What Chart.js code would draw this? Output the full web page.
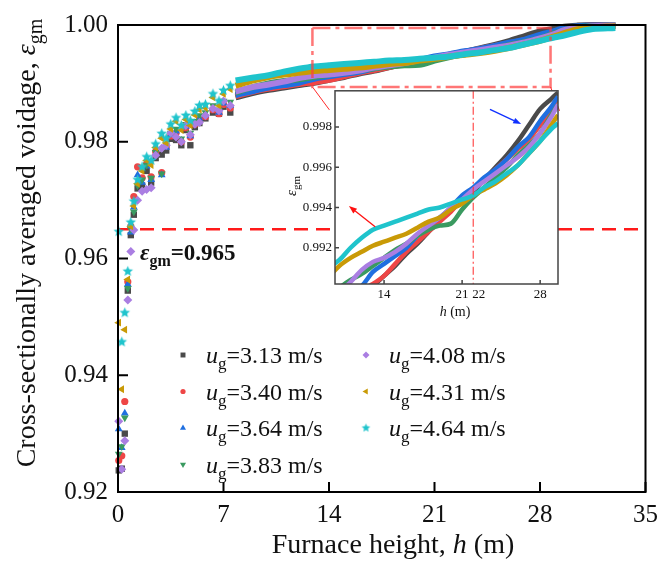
<!DOCTYPE html>
<html>
<head>
<meta charset="utf-8">
<script src="https://cdn.jsdelivr.net/npm/chart.js@4/dist/chart.umd.min.js"></script>
<style>
  html, body { margin: 0; padding: 0; background: #fff; }
  #wrap { position: relative; width: 666px; height: 573px; }
  #main { position: absolute; left: 0; top: 0; }
  #inset { position: absolute; left: 260px; top: 80px; }
</style>
</head>
<body>
<div id="wrap">
  <canvas id="main" width="666" height="573"></canvas>
  <canvas id="inset" width="310" height="250"></canvas>
</div>
<script>
// superficial gas velocities (m/s)
const speeds = ['3.13', '3.40', '3.64', '3.83', '4.08', '4.31', '4.64'];
const colors = ['#4a4a4a', '#ee4646', '#1f6fe0', '#3a9a60', '#aa7ee2', '#c99a06', '#1fc4cc'];

// lower furnace: individual measurement points
const earlyH = [0.05, 0.25, 0.45, 0.65, 0.85, 1.05, 1.3, 1.6, 1.9, 2.2, 2.5, 2.9, 3.2, 3.5, 3.85, 4.2, 4.5, 4.8, 5.1, 5.4, 5.8, 6.3, 6.7, 7.0, 7.45];
const early313 = [0.9237, 0.9240, 0.9300, 0.9545, 0.9640, 0.9675, 0.9720, 0.9725, 0.9750, 0.9730, 0.9772, 0.9778, 0.9785, 0.9805, 0.9803, 0.9794, 0.9820, 0.9794, 0.9825, 0.9832, 0.9840, 0.9850, 0.9848, 0.9860, 0.9850];
const early340 = [0.9254, 0.9262, 0.9355, 0.9560, 0.9655, 0.9706, 0.9757, 0.9738, 0.9762, 0.9740, 0.9783, 0.9747, 0.9792, 0.9810, 0.9815, 0.9800, 0.9824, 0.9808, 0.9830, 0.9838, 0.9843, 0.9855, 0.9848, 0.9864, 0.9858];
const early364 = [0.9308, 0.9276, 0.9335, 0.9556, 0.9645, 0.9688, 0.9743, 0.9730, 0.9758, 0.9735, 0.9780, 0.9743, 0.9790, 0.9812, 0.9818, 0.9802, 0.9826, 0.9810, 0.9832, 0.9840, 0.9846, 0.9858, 0.9850, 0.9866, 0.9862];
const early383 = [0.9265, 0.9278, 0.9327, 0.9549, 0.9650, 0.9680, 0.9725, 0.9735, 0.9760, 0.9738, 0.9782, 0.9745, 0.9795, 0.9815, 0.9822, 0.9805, 0.9830, 0.9815, 0.9835, 0.9845, 0.9850, 0.9862, 0.9855, 0.9870, 0.9868];
const early408 = [0.9321, 0.9239, 0.9288, 0.9529, 0.9612, 0.9649, 0.9700, 0.9715, 0.9718, 0.9721, 0.9777, 0.9789, 0.9794, 0.9815, 0.9808, 0.9800, 0.9828, 0.9812, 0.9830, 0.9833, 0.9845, 0.9857, 0.9853, 0.9870, 0.9862];
const early431 = [0.9490, 0.9376, 0.9478, 0.9564, 0.9655, 0.9690, 0.9728, 0.9750, 0.9768, 0.9760, 0.9790, 0.9806, 0.9798, 0.9822, 0.9835, 0.9820, 0.9838, 0.9828, 0.9846, 0.9855, 0.9858, 0.9876, 0.9862, 0.9882, 0.9890];
const early464 = [0.9646, 0.9457, 0.9507, 0.9578, 0.9662, 0.9698, 0.9735, 0.9757, 0.9774, 0.9768, 0.9796, 0.9814, 0.9806, 0.9830, 0.9841, 0.9828, 0.9845, 0.9836, 0.9852, 0.9862, 0.9864, 0.9882, 0.9870, 0.9888, 0.9896];

// upper furnace: continuous profiles (also shown in the inset)
const profileH = [7.8, 9, 10, 11, 12, 13, 14, 15, 16, 17, 18, 19, 20, 21, 22, 23, 24, 25, 26, 27, 28, 29, 29.6, 30.5, 31.5, 33];
const profile313 = [0.9876, 0.9884, 0.9889, 0.9893, 0.9897, 0.9901, 0.9906, 0.9911, 0.9917, 0.9922, 0.9928, 0.9934, 0.9939, 0.9944, 0.9948, 0.9954, 0.9960, 0.9966, 0.9973, 0.9981, 0.9989, 0.9994, 0.9997, 0.9999, 1.0000, 0.9999];
const profile340 = [0.9878, 0.9886, 0.9891, 0.9895, 0.9899, 0.9902, 0.9906, 0.9912, 0.9918, 0.9923, 0.9928, 0.9933, 0.9938, 0.9944, 0.9949, 0.9954, 0.9959, 0.9964, 0.9969, 0.9974, 0.9981, 0.9988, 0.9994, 0.9997, 0.9999, 0.9999];
const profile364 = [0.9880, 0.9887, 0.9893, 0.9897, 0.9901, 0.9908, 0.9912, 0.9916, 0.9920, 0.9926, 0.9931, 0.9935, 0.9940, 0.9946, 0.9950, 0.9955, 0.9959, 0.9964, 0.9970, 0.9975, 0.9983, 0.9990, 0.9995, 0.9998, 0.9999, 0.9999];
const profile383 = [0.9884, 0.9894, 0.9900, 0.9904, 0.9907, 0.9911, 0.9915, 0.9919, 0.9922, 0.9926, 0.9929, 0.9931, 0.9932, 0.9939, 0.9945, 0.9950, 0.9955, 0.9960, 0.9966, 0.9971, 0.9977, 0.9986, 0.9991, 0.9996, 0.9998, 0.9999];
const profile408 = [0.9886, 0.9894, 0.9898, 0.9903, 0.9909, 0.9913, 0.9915, 0.9918, 0.9922, 0.9927, 0.9931, 0.9935, 0.9940, 0.9944, 0.9949, 0.9953, 0.9957, 0.9961, 0.9965, 0.9970, 0.9977, 0.9985, 0.9991, 0.9995, 0.9998, 0.9999];
const profile431 = [0.9896, 0.9905, 0.9911, 0.9915, 0.9918, 0.9921, 0.9923, 0.9925, 0.9927, 0.9930, 0.9933, 0.9935, 0.9939, 0.9942, 0.9946, 0.9949, 0.9952, 0.9956, 0.9961, 0.9967, 0.9973, 0.9981, 0.9986, 0.9993, 0.9996, 0.9998];
const profile464 = [0.9905, 0.9910, 0.9914, 0.9920, 0.9925, 0.9929, 0.9931, 0.9933, 0.9935, 0.9937, 0.9939, 0.9940, 0.9942, 0.9944, 0.9946, 0.9950, 0.9953, 0.9957, 0.9961, 0.9967, 0.9973, 0.9979, 0.9982, 0.9988, 0.9993, 0.9995];

const earlyData = [early313, early340, early364, early383, early408, early431, early464];
const profileData = [profile313, profile340, profile364, profile383, profile408, profile431, profile464];

// axes
const hTicks = [0, 7, 14, 21, 28, 35];
const voidTicks = [0.92, 0.94, 0.96, 0.98, 1.00];
const insetHTicks = [14, 21, 28];
const insetVoidTicks = [0.992, 0.994, 0.996, 0.998];
const insetRangeH = [9.6, 29.6];
const insetRangeV = [0.9902, 0.9998];

// annotations
const threshold = 0.965;
const zoomBoxH = [12.9, 28.7];
const zoomBoxV = [0.9894, 0.9995];
const markH = 22;
const redArrow = [[13.2, 0.99304], [10.85, 0.99407]];
const blueArrow = [[23.5, 0.99888], [26.3, 0.99815]];

const SERIF = '"Liberation Serif", "Times New Roman", serif';

function starImage(color, r) {
  const c = document.createElement('canvas');
  const s = Math.ceil(r * 2 + 2);
  c.width = c.height = s;
  const g = c.getContext('2d');
  g.fillStyle = color;
  g.beginPath();
  for (let k = 0; k < 10; k++) {
    const rad = k % 2 ? r * 0.45 : r;
    const a = -Math.PI / 2 + k * Math.PI / 5;
    g.lineTo(s / 2 + rad * Math.cos(a), s / 2 + rad * Math.sin(a));
  }
  g.closePath();
  g.fill();
  return c;
}

// marker shape and size per series
const markers = [
  { pointStyle: 'rect', rotation: 0, radius: 4.5 },
  { pointStyle: 'circle', rotation: 0, radius: 3.6 },
  { pointStyle: 'triangle', rotation: 0, radius: 4.5 },
  { pointStyle: 'triangle', rotation: 180, radius: 4.5 },
  { pointStyle: 'rectRot', rotation: 0, radius: 4.5 },
  { pointStyle: 'triangle', rotation: -90, radius: 4.5 },
  { pointStyle: starImage(colors[6], 5.5), rotation: 0, radius: 5 }
];
const legendStar = starImage(colors[6], 4.5);

function fontFor(p, size, bold) {
  const s = p.sub ? Math.round(size * 0.7) : size;
  return (p.i ? 'italic ' : '') + (bold ? 'bold ' : '') + s + 'px ' + SERIF;
}

function drawRich(ctx, parts, x, y, size, align, bold) {
  ctx.save();
  ctx.textBaseline = 'alphabetic';
  ctx.textAlign = 'left';
  let w = 0;
  parts.forEach(p => { ctx.font = fontFor(p, size, bold); w += ctx.measureText(p.t).width; });
  let cx = align === 'center' ? x - w / 2 : x;
  parts.forEach(p => {
    ctx.font = fontFor(p, size, bold);
    ctx.fillText(p.t, cx, y + (p.sub ? size * 0.25 : 0));
    cx += ctx.measureText(p.t).width;
  });
  ctx.restore();
  return w;
}

function drawArrow(ctx, x0, y0, x1, y1, color) {
  const a = Math.atan2(y1 - y0, x1 - x0);
  const len = 8, half = 3;
  ctx.save();
  ctx.strokeStyle = color;
  ctx.fillStyle = color;
  ctx.lineWidth = 1.3;
  ctx.beginPath();
  ctx.moveTo(x0, y0);
  ctx.lineTo(x1 - len * Math.cos(a), y1 - len * Math.sin(a));
  ctx.stroke();
  ctx.beginPath();
  ctx.moveTo(x1, y1);
  ctx.lineTo(x1 - len * Math.cos(a) - half * Math.sin(a), y1 - len * Math.sin(a) + half * Math.cos(a));
  ctx.lineTo(x1 - len * Math.cos(a) + half * Math.sin(a), y1 - len * Math.sin(a) - half * Math.cos(a));
  ctx.closePath();
  ctx.fill();
  ctx.restore();
}

// main chart datasets
const mainSets = [];
speeds.forEach((s, i) => {
  const order = 6 - i;
  mainSets.push({
    label: 'u_g=' + s + ' m/s',
    data: earlyH.map((h, k) => ({ x: h, y: earlyData[i][k] })),
    pointStyle: markers[i].pointStyle,
    rotation: markers[i].rotation,
    pointRadius: markers[i].radius,
    backgroundColor: colors[i],
    borderWidth: 0,
    showLine: false,
    clip: false,
    order: order
  });
  mainSets.push({
    data: profileH.map((h, k) => ({ x: h, y: profileData[i][k] })),
    showLine: true,
    borderColor: colors[i],
    borderWidth: 6,
    pointRadius: 0,
    cubicInterpolationMode: 'monotone',
    clip: false,
    order: order
  });
});
mainSets.push({
  data: [{ x: hTicks[0], y: threshold }, { x: hTicks[hTicks.length - 1], y: threshold }],
  showLine: true,
  borderColor: '#ff1a1a',
  borderWidth: 2.5,
  borderDash: [14, 8],
  pointRadius: 0,
  order: 10
});

const mainDecor = {
  id: 'mainDecor',
  afterDraw(chart) {
    const ctx = chart.ctx;
    const a = chart.chartArea;
    const xs = chart.scales.x, ys = chart.scales.y;
    ctx.save();
    // frame
    ctx.strokeStyle = '#000';
    ctx.lineWidth = 2;
    ctx.strokeRect(a.left, a.top, a.right - a.left, a.bottom - a.top);
    // inward ticks
    ctx.beginPath();
    hTicks.forEach(v => { const px = xs.getPixelForValue(v); ctx.moveTo(px, a.bottom); ctx.lineTo(px, a.bottom - 10); });
    voidTicks.forEach(v => { const py = ys.getPixelForValue(v); ctx.moveTo(a.left, py); ctx.lineTo(a.left + 10, py); });
    ctx.stroke();

    // zoom box
    const bx0 = xs.getPixelForValue(zoomBoxH[0]), bx1 = xs.getPixelForValue(zoomBoxH[1]);
    const by0 = ys.getPixelForValue(zoomBoxV[1]), by1 = ys.getPixelForValue(zoomBoxV[0]);
    ctx.strokeStyle = 'rgba(255, 60, 60, 0.7)';
    ctx.lineWidth = 2.5;
    ctx.setLineDash([18, 5, 4, 5]);
    ctx.strokeRect(bx0, by0, bx1 - bx0, by1 - by0);
    ctx.setLineDash([]);
    ctx.strokeStyle = '#ff2a2a';
    ctx.lineWidth = 1;
    ctx.beginPath();
    ctx.moveTo(bx0, by1); ctx.lineTo(bx0 + 17, by1 + 23);
    ctx.moveTo(bx1, by1); ctx.lineTo(bx1 + 9, by1 + 24);
    ctx.stroke();

    ctx.fillStyle = '#111';
    // axis titles
    drawRich(ctx, [{ t: 'Furnace height, ' }, { t: 'h', i: true }, { t: ' (m)' }], 393, 553, 28, 'center');
    ctx.save();
    ctx.translate(35, 243);
    ctx.rotate(-Math.PI / 2);
    drawRich(ctx, [{ t: 'Cross-sectionally averaged voidage, ' }, { t: '\u03b5', i: true }, { t: 'gm', sub: true }], 0, 0, 28, 'center');
    ctx.restore();

    // threshold label
    drawRich(ctx, [{ t: '\u03b5', i: true }, { t: 'gm', sub: true }, { t: '=' + threshold.toFixed(3) }], 140, 260, 23, 'left', true);

    // legend, two columns
    const colX = [183, 366];
    const rowY = [355, 391.5, 428, 464.5];
    speeds.forEach((s, i) => {
      const col = i < 4 ? 0 : 1;
      const row = i < 4 ? i : i - 4;
      const mx = colX[col], my = rowY[row];
      ctx.fillStyle = colors[i];
      if (i === 6) {
        ctx.drawImage(legendStar, mx - legendStar.width / 2, my - legendStar.height / 2);
      } else if (Chart.helpers && Chart.helpers.drawPoint) {
        Chart.helpers.drawPoint(ctx, { pointStyle: markers[i].pointStyle, rotation: markers[i].rotation, radius: markers[i].radius - 1, borderWidth: 0 }, mx, my);
      } else {
        ctx.fillRect(mx - 3, my - 3, 6, 6);
      }
      ctx.fillStyle = '#111';
      drawRich(ctx, [{ t: 'u', i: true }, { t: 'g', sub: true }, { t: '=' + s + ' m/s' }], mx + 23, my + 8, 24, 'left');
    });
    ctx.restore();
  }
};

new Chart(document.getElementById('main'), {
  type: 'scatter',
  data: { datasets: mainSets },
  options: {
    responsive: false,
    animation: false,
    events: [],
    layout: { padding: { top: 18, right: 12, left: 0, bottom: 0 } },
    plugins: { legend: { display: false }, tooltip: { enabled: false } },
    scales: {
      x: {
        type: 'linear', min: hTicks[0], max: hTicks[hTicks.length - 1],
        afterBuildTicks: s => { s.ticks = hTicks.map(v => ({ value: v })); },
        afterFit: s => { s.height = 81; },
        grid: { display: false, drawTicks: false },
        border: { display: false },
        ticks: { color: '#111', font: { family: SERIF, size: 25 }, padding: 8, maxRotation: 0, autoSkip: false }
      },
      y: {
        type: 'linear', min: voidTicks[0], max: voidTicks[voidTicks.length - 1],
        afterBuildTicks: s => { s.ticks = voidTicks.map(v => ({ value: v })); },
        afterFit: s => { s.width = 118; },
        grid: { display: false, drawTicks: false },
        border: { display: false },
        ticks: { color: '#111', font: { family: SERIF, size: 25 }, padding: 10, autoSkip: false, callback: v => v.toFixed(2) }
      }
    }
  },
  plugins: [mainDecor]
});

// inset: zoomed view of the upper furnace profiles
const insetSets = speeds.map((s, i) => ({
  data: profileH.map((h, k) => ({ x: h, y: profileData[i][k] })),
  showLine: true,
  borderColor: colors[i],
  borderWidth: 4.5,
  pointRadius: 0,
  cubicInterpolationMode: 'monotone',
  clip: 0,
  order: 6 - i
}));

const insetDecor = {
  id: 'insetDecor',
  beforeDatasetsDraw(chart) {
    const ctx = chart.ctx, a = chart.chartArea;
    ctx.save();
    ctx.fillStyle = '#fff';
    ctx.fillRect(a.left, a.top, a.right - a.left, a.bottom - a.top);
    ctx.restore();
  },
  afterDraw(chart) {
    const ctx = chart.ctx, a = chart.chartArea;
    const xs = chart.scales.x, ys = chart.scales.y;
    ctx.save();
    // marker line
    const mx = xs.getPixelForValue(markH);
    ctx.strokeStyle = 'rgba(255, 50, 50, 0.8)';
    ctx.lineWidth = 1.3;
    ctx.setLineDash([8, 3, 2, 3]);
    ctx.beginPath();
    ctx.moveTo(mx, a.top); ctx.lineTo(mx, a.bottom);
    ctx.stroke();
    ctx.setLineDash([]);

    // frame and ticks
    ctx.strokeStyle = '#444';
    ctx.lineWidth = 1.5;
    ctx.strokeRect(a.left, a.top, a.right - a.left, a.bottom - a.top);
    ctx.beginPath();
    insetHTicks.forEach(v => { const px = xs.getPixelForValue(v); ctx.moveTo(px, a.bottom); ctx.lineTo(px, a.bottom - 4); });
    insetVoidTicks.forEach(v => { const py = ys.getPixelForValue(v); ctx.moveTo(a.left, py); ctx.lineTo(a.left + 4, py); });
    ctx.stroke();

    // arrows
    drawArrow(ctx, xs.getPixelForValue(redArrow[0][0]), ys.getPixelForValue(redArrow[0][1]),
      xs.getPixelForValue(redArrow[1][0]), ys.getPixelForValue(redArrow[1][1]), '#ff1010');
    drawArrow(ctx, xs.getPixelForValue(blueArrow[0][0]), ys.getPixelForValue(blueArrow[0][1]),
      xs.getPixelForValue(blueArrow[1][0]), ys.getPixelForValue(blueArrow[1][1]), '#1030ff');

    // extra label beside the marker line
    ctx.fillStyle = '#111';
    ctx.font = '13px ' + SERIF;
    ctx.textAlign = 'left';
    ctx.textBaseline = 'middle';
    ctx.fillText(String(markH), mx - 1, a.bottom + 3 + 13 * 0.6);

    // titles
    drawRich(ctx, [{ t: 'h', i: true }, { t: ' (m)' }], 195, 236, 14, 'center');
    ctx.save();
    ctx.translate(36, 106);
    ctx.rotate(-Math.PI / 2);
    drawRich(ctx, [{ t: '\u03b5', i: true }, { t: 'gm', sub: true }], 0, 0, 15, 'center');
    ctx.restore();
    ctx.restore();
  }
};

new Chart(document.getElementById('inset'), {
  type: 'scatter',
  data: { datasets: insetSets },
  options: {
    responsive: false,
    animation: false,
    events: [],
    layout: { padding: { top: 9, right: 12, left: 0, bottom: 0 } },
    plugins: { legend: { display: false }, tooltip: { enabled: false } },
    scales: {
      x: {
        type: 'linear', min: insetRangeH[0], max: insetRangeH[1],
        afterBuildTicks: s => { s.ticks = insetHTicks.map(v => ({ value: v })); },
        afterFit: s => { s.height = 46; },
        grid: { display: false, drawTicks: false },
        border: { display: false },
        ticks: { color: '#111', font: { family: SERIF, size: 13 }, padding: 3, maxRotation: 0, autoSkip: false }
      },
      y: {
        type: 'linear', min: insetRangeV[0], max: insetRangeV[1],
        afterBuildTicks: s => { s.ticks = insetVoidTicks.map(v => ({ value: v })); },
        afterFit: s => { s.width = 75; },
        grid: { display: false, drawTicks: false },
        border: { display: false },
        ticks: { color: '#111', font: { family: SERIF, size: 13 }, padding: 3, autoSkip: false, callback: v => v.toFixed(3) }
      }
    }
  },
  plugins: [insetDecor]
});
</script>
</body>
</html>
